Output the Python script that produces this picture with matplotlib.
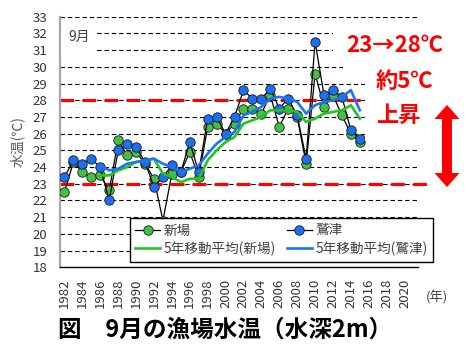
import matplotlib
matplotlib.use('Agg')
import matplotlib.pyplot as plt
from matplotlib.patches import Rectangle, Polygon

plt.rcParams['font.family'] = ['Noto Sans CJK JP', 'DejaVu Sans']

years = list(range(1982, 2016))
shinba = [22.5, 24.3, 23.7, 23.4, 23.5, 22.6, 25.6, 24.7, 24.9, 24.2, 23.3, 20.8,
          23.6, 23.7, 24.9, 23.4, 26.4, 26.6, 26.0, 26.6, 27.5, 27.5, 27.2, 28.3,
          26.4, 27.5, 27.0, 24.2, 29.6, 27.6, 28.3, 27.1, 26.0, 25.5]
washizu = [23.4, 24.4, 24.2, 24.5, 24.0, 22.0, 25.0, 25.4, 25.2, 24.3, 22.8, 23.4,
           24.1, 23.7, 25.5, 23.7, 26.9, 27.0, 26.0, 27.0, 28.6, 28.1, 28.1, 28.7,
           27.5, 28.1, 27.1, 24.5, 31.5, 28.3, 28.6, 28.2, 26.2, 25.7]

ma_years = list(range(1986, 2016))
ma_shinba = [23.5, 23.5, 23.8, 24.0, 24.3, 24.4, 24.5, 23.6, 23.4, 23.1, 23.3, 23.3,
             24.4, 25.0, 25.5, 25.8, 26.6, 26.8, 27.0, 27.4, 27.4, 27.4, 27.3, 26.7,
             26.9, 27.2, 27.3, 27.4, 27.7, 26.9]
ma_washizu = [24.1, 23.8, 23.9, 24.2, 24.3, 24.4, 24.5, 24.2, 24.0, 23.7, 23.9, 24.1,
              24.8, 25.4, 25.8, 26.1, 27.1, 27.3, 27.6, 28.1, 28.2, 28.1, 27.9, 27.2,
              27.7, 27.9, 28.0, 28.2, 28.6, 27.4]

tick_years = list(range(1982, 2021, 2))
ref_levels = [23, 28]

W, H = 471, 358
fig = plt.figure(figsize=(W / 100, H / 100), dpi=100)
ax = fig.add_axes([60 / W, 1 - 267.3 / H, 358 / W, 250.6 / H])


def fx(px):
    return px / W


def fy(py):
    return 1 - py / H


ax.set_xlim(1981.5, 2021.5)
ax.set_ylim(18, 33)
ax.set_yticks(range(18, 34))
ax.set_xticks(tick_years)
ax.set_xticklabels([str(y) for y in tick_years], rotation=90)
ax.tick_params(length=0, labelsize=9.5, labelcolor='#333333')
ax.tick_params(axis='y', pad=9)
ax.tick_params(axis='x', pad=8)
ax.yaxis.grid(True, color='black', lw=0.8, linestyle=(0, (4, 2.6)))
ax.set_axisbelow(True)
for s in ['top', 'right']:
    ax.spines[s].set_visible(False)
ax.spines['left'].set_color('#a6a6a6')
ax.spines['left'].set_linewidth(1.6)
ax.spines['bottom'].set_color('black')
ax.spines['bottom'].set_linewidth(1.0)

# reference lines 23 / 28
ax.plot([1981.5, 2022.5], [ref_levels[0]] * 2, color='#ff0000', lw=2.3,
        linestyle=(0, (4.3, 2.6)), clip_on=False, zorder=1.5)
ax.plot([1981.5, 2021.5], [ref_levels[1]] * 2, color='#ff0000', lw=2.3,
        linestyle=(0, (4.3, 2.6)), zorder=1.5)

h1, = ax.plot(years, shinba, color='black', lw=0.9, marker='o', ms=6.8,
              mfc='#44c044', mec='#1a1a1a', mew=0.6, zorder=3, label='新場')
h2, = ax.plot(years, washizu, color='black', lw=0.9, marker='o', ms=6.8,
              mfc='#1b6ff0', mec='#1a1a1a', mew=0.6, zorder=3.1, label='鷲津')
h3, = ax.plot(ma_years, ma_shinba, color='#22c422', lw=1.9, zorder=4,
              label='5年移動平均(新場)')
h4, = ax.plot(ma_years, ma_washizu, color='#1a75f5', lw=1.9, zorder=4.1,
              label='5年移動平均(鷲津)')

leg = fig.legend([h1, h3, h2, h4], [h.get_label() for h in [h1, h3, h2, h4]],
                 ncol=2, loc='upper left', bbox_to_anchor=(fx(130), fy(218)),
                 bbox_transform=fig.transFigure, borderaxespad=0, fontsize=9.8,
                 frameon=True, fancybox=False, framealpha=1, edgecolor='black',
                 handlelength=1.8, handletextpad=0.3, columnspacing=0.8,
                 labelspacing=0.3, borderpad=0.4)
leg.get_frame().set_linewidth(1.0)
for t in leg.get_texts():
    t.set_color('#404040')

# white boxes hiding gridlines behind annotations
for x0, y0, x1, y1 in [(61, 27, 97, 57), (333, 27, 470, 62),
                       (343, 62, 470, 78), (365, 78, 470, 141)]:
    fig.patches.append(Rectangle((fx(x0), fy(y1)), fx(x1 - x0), (y1 - y0) / H,
                                 transform=fig.transFigure, facecolor='white',
                                 edgecolor='none', zorder=1))

fig.text(fx(68), fy(37), '9月', fontsize=10, color='#404040', va='center',
         ha='left', zorder=2)
fig.text(fx(395), fy(46), '23→28℃', fontsize=16, color='#ff0000',
         fontweight='bold', ha='center', va='center', zorder=2)
fig.text(fx(376), fy(82), '約5℃', fontsize=16, color='#ff0000',
         fontweight='bold', ha='left', va='center', zorder=2)
fig.text(fx(376), fy(115), '上昇', fontsize=16, color='#ff0000',
         fontweight='bold', ha='left', va='center', zorder=2)

# double headed arrow
c = 447
pts = [(c, 105), (c + 12.5, 119), (c + 5, 119), (c + 5, 173), (c + 12.5, 173),
       (c, 187), (c - 12.5, 173), (c - 5, 173), (c - 5, 119), (c - 12.5, 119)]
fig.patches.append(Polygon([(fx(px), fy(py)) for px, py in pts],
                           closed=True, transform=fig.transFigure,
                           facecolor='#ff0000', edgecolor='none', zorder=2))

fig.text(fx(17), fy(142), '水温(℃)', fontsize=10, color='#595959',
         rotation=90, ha='center', va='center')
fig.text(fx(437), fy(297), '(年)', fontsize=9.5, color='#404040',
         ha='center', va='center')
fig.text(fx(58), fy(330), '図　9月の漁場水温（水深2m）', fontsize=17,
         fontweight='bold', color='black', ha='left', va='center')

fig.savefig('out.png', dpi=100)
